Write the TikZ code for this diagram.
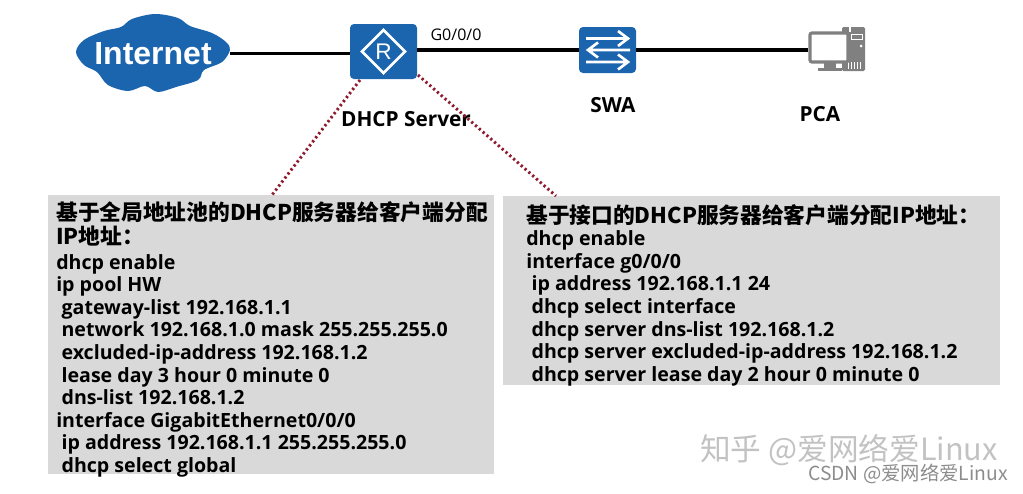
\documentclass[tikz,border=0pt]{standalone}
\usepackage{fontspec}
\setmainfont{Open Sans}
\newfontfamily\cjk{Noto Sans CJK SC}
\newfontfamily\arialb{Liberation Sans}
\usetikzlibrary{calc}
\definecolor{hwblue}{HTML}{1B64AE}
\definecolor{boxgray}{HTML}{D9D9D9}
\definecolor{pcgray}{HTML}{808080}
\definecolor{dotred}{HTML}{8E1B2E}
\newcommand{\hd}[1]{{\cjk\bfseries\fontsize{16.3}{17}\selectfont #1}}
\tikzset{
  x=0.75pt,y=-0.75pt,
  link/.style={line width=2.3pt,black},
  dotlink/.style={line width=2.2pt,dotred,dash pattern=on 1.7pt off 2.1pt},
  device/.style={fill=hwblue,rounded corners=3pt,inner sep=0pt},
  graybox/.style={fill=boxgray,inner sep=0pt,anchor=north west},
  cfg/.style={anchor=north west,inner sep=0pt,align=left,font=\bfseries\fontsize{14.7}{16.95}\selectfont},
  lab/.style={font=\bfseries\fontsize{15.6}{17}\selectfont,inner sep=0pt},
  iconline/.style={white,line width=2pt},
}
\begin{document}
\begin{tikzpicture}
\lineskiplimit=-20pt
\useasboundingbox (0,0) rectangle (1023,493);
% grey boxes
\node[graybox,minimum width=334.5pt,minimum height=209pt] (lbox) at (48,195) {};
\node[graybox,minimum width=372.75pt,minimum height=141.75pt] (rbox) at (503,196) {};
% cloud
\fill[hwblue] plot[smooth cycle,tension=0.55] coordinates {(76,52) (84,40) (104,31) (121,27) (132,19) (155,14) (178,18) (190,26) (212,33) (226,42) (230,50) (222,62) (204,70) (198,80) (176,87) (158,92) (145,86) (128,91) (108,85) (97,72) (84,65)};
\node[inner sep=0pt,minimum width=115.5pt,minimum height=58pt,text=white,font=\arialb\bfseries\fontsize{24}{26}\selectfont] (inet) at (153,53.5) {Internet};
% devices
\node[device,minimum width=50.25pt,minimum height=41.25pt] (router) at (383.5,51.5) {};
\node[device,minimum width=42.75pt,minimum height=34.5pt] (swa) at (607.5,50) {};
\coordinate (pcw) at (808,50);
% links
\draw[link] (inet.east) -- (inet.east -| router.west);
\draw[link] (router.east |- pcw) -- (swa.west |- pcw);
\draw[link] (swa.east |- pcw) -- (pcw);
% router icon
\draw[white,line width=2pt] (383.5,30) -- (405,51.5) -- (383.5,73) -- (362,51.5) -- cycle;
\node[inner sep=0pt,text=white,font=\arialb\fontsize{17}{18}\selectfont] (rlabel) at (383.5,51.5) {R};
% switch icon
\draw[iconline] (586,38.5) -- (627,38.5) (618,31) -- (628,38.5) -- (618,46);
\draw[iconline] (630,50) -- (589,50) (598,42.5) -- (588,50) -- (598,57.5);
\draw[iconline] (586,62) -- (627,62) (618,54.5) -- (628,62) -- (618,69.5);
% pc icon
\fill[pcgray,rounded corners=1pt] (842,27) rectangle (865,71);
\fill[white] (851,34) rectangle (863,40);
\fill[pcgray] (852,35) rectangle (862,39);
\fill[white] (861,46) circle (1.5);
\draw[white,line width=.5pt] (848,62)--(848,69) (851,62)--(851,69) (854,62)--(854,69) (857,62)--(857,69) (860,62)--(860,69);
\draw[white,line width=1pt] (850,27) -- (850,32);
\draw[pcgray,line width=2.4pt,fill=white,rounded corners=1.5pt] (810,33) rectangle (848,62);
\fill[pcgray] (824,63) rectangle (836,68);
\fill[pcgray] (818,67.5) rectangle (842,71);
% labels
\node[inner sep=0pt,font=\fontsize{12}{14}\selectfont] (g000) at (456,34.5) {G0/0/0};
\node[lab] (dhcpsrv) at (406,119.5) {DHCP Server};
\node[lab] (swalabel) at (613,105.5) {SWA};
\node[lab] (pcalabel) at (820,114.5) {PCA};
% dotted connectors
\coordinate (lstart) at (360,80);
\coordinate (rstart) at (418,75);
\draw[dotlink] (lstart) -- (lbox.north west -| 272,195);
\draw[dotlink] (rstart) -- (rbox.north west -| 556,196);
% config text
\node[cfg] (ltext) at (56,201) {\hd{基于全局地址池的DHCP服务器给客户端分配}\\[1.4pt]
\hd{IP地址：}\\[1.4pt]
dhcp enable\\
ip pool HW\\
\hspace*{4pt}gateway-list 192.168.1.1\\
\hspace*{4pt}network 192.168.1.0 mask 255.255.255.0\\
\hspace*{4pt}excluded-ip-address 192.168.1.2\\
\hspace*{4pt}lease day 3 hour 0 minute 0\\
\hspace*{4pt}dns-list 192.168.1.2\\
interface GigabitEthernet0/0/0\\
\hspace*{4pt}ip address 192.168.1.1 255.255.255.0\\
\hspace*{4pt}dhcp select global};
\node[cfg] (rtext) at (526,204) {\hd{基于接口的DHCP服务器给客户端分配IP地址：}\\
dhcp enable\\
interface g0/0/0\\
\hspace*{4pt}ip address 192.168.1.1 24\\
\hspace*{4pt}dhcp select interface\\
\hspace*{4pt}dhcp server dns-list 192.168.1.2\\
\hspace*{4pt}dhcp server excluded-ip-address 192.168.1.2\\
\hspace*{4pt}dhcp server lease day 2 hour 0 minute 0};
% watermarks
\node[anchor=east,inner sep=0pt,text=black!24,font=\cjk\fontsize{23}{25}\selectfont] (zhihu) at (998,450) {知乎 @爱网络爱Linux};
\node[anchor=east,inner sep=0pt,text=black!45,font=\cjk\fontsize{14.5}{16}\selectfont] (csdn) at (1008,474) {CSDN @爱网络爱Linux};
\end{tikzpicture}
\end{document}
